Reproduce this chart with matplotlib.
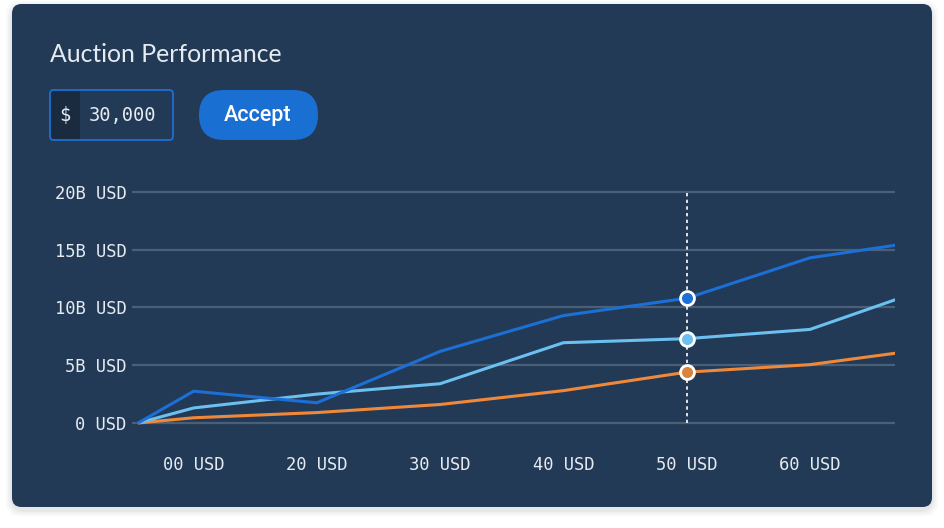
import matplotlib.pyplot as plt
from matplotlib.patches import FancyBboxPatch

# data (values in billions of USD)
x_pos = [-0.45, 0, 1, 2, 3, 4, 5, 5.7]
blue = [0, 2.75, 1.75, 6.2, 9.3, 10.8, 14.3, 15.4]
light_blue = [0, 1.3, 2.5, 3.4, 6.95, 7.3, 8.1, 10.7]
orange = [0, 0.45, 0.9, 1.6, 2.8, 4.4, 5.05, 6.05]
x_ticks = [0, 1, 2, 3, 4, 5]
x_labels = ["00 USD", "20 USD", "30 USD", "40 USD", "50 USD", "60 USD"]
y_ticks = [0, 5, 10, 15, 20]
y_labels = ["0 USD", "5B USD", "10B USD", "15B USD", "20B USD"]
hover_x = 4

W, H = 945, 528
card = "#233a56"
grid = "#4a5f78"
txt = "#e6ebf1"

fig = plt.figure(figsize=(W / 100, H / 100), dpi=100)
fig.patch.set_facecolor("white")

def px(x0, y0, w, h):
    # pixel box (from top-left) to figure fraction
    return (x0 / W, 1 - (y0 + h) / H, w / W, h / H)

# shadow + card
for i, a in enumerate([0.025, 0.03, 0.04]):
    g = 6 - i * 2
    b = px(12 - g, 4 - g + 3, 920 + 2 * g, 503 + 2 * g)
    fig.patches.append(FancyBboxPatch((b[0], b[1]), b[2], b[3],
                                      boxstyle="round,pad=0,rounding_size=0.015",
                                      transform=fig.transFigure, fc="black", ec="none",
                                      alpha=a, zorder=0, mutation_aspect=W / H))
b = px(12, 4, 920, 503)
fig.patches.append(FancyBboxPatch((b[0], b[1]), b[2], b[3],
                                  boxstyle="round,pad=0,rounding_size=0.01",
                                  transform=fig.transFigure, fc=card, ec="none", zorder=1,
                                  mutation_aspect=W / H))

fig.text(50 / W, 1 - 54 / H, "Auction Performance", fontsize=17.8, color=txt,
         family="Lato", va="center", ha="left")

# input box
b = px(50, 90, 30, 50)
fig.patches.append(FancyBboxPatch((b[0], b[1]), b[2], b[3],
                                  boxstyle="round,pad=0,rounding_size=0.003",
                                  transform=fig.transFigure, fc="#1a2a3f", ec="none", zorder=2))
b = px(50, 90, 123, 50)
fig.patches.append(FancyBboxPatch((b[0], b[1]), b[2], b[3],
                                  boxstyle="round,pad=0,rounding_size=0.004",
                                  transform=fig.transFigure, fc="none", ec="#1f6fd0", lw=1.3,
                                  zorder=3, mutation_aspect=W / H))
fig.text(65 / W, 1 - 116 / H, "$", fontsize=13.5, color=txt, family="DejaVu Sans Mono",
         va="center", ha="center", zorder=4)
fig.text(123 / W, 1 - 116 / H, "30,000", fontsize=13.5, color=txt, family="DejaVu Sans Mono",
         va="center", ha="center", zorder=4)

# button
b = px(199, 90, 119, 50)
fig.patches.append(FancyBboxPatch((b[0], b[1]), b[2], b[3],
                                  boxstyle="round,pad=0,rounding_size=%f" % (25 / W),
                                  transform=fig.transFigure, fc="#1a6fd3", ec="none",
                                  zorder=2, mutation_aspect=W / H))
fig.text(258 / W, 1 - 115 / H, "Accept", fontsize=15.5, color="white", family="Roboto",
         weight="medium", va="center", ha="center", zorder=4)

# chart
ax = fig.add_axes([132 / W, 1 - 429.9 / H, (895 - 132) / W, (429.9 - 187.4) / H])
ax.set_zorder(5)
ax.set_facecolor("none")
ax.set_xlim(-0.5, 5.69)
ax.set_ylim(-0.6, 20.4)
for s in ax.spines.values():
    s.set_visible(False)
for v in y_ticks:
    ax.axhline(v, color=grid, lw=1.6, zorder=1)
ax.set_xticks(x_ticks, x_labels)
ax.set_yticks(y_ticks, y_labels)
ax.tick_params(length=0, colors=txt, labelsize=12.3)
ax.tick_params(axis="x", pad=19)
ax.tick_params(axis="y", pad=4)
for lab in ax.get_xticklabels() + ax.get_yticklabels():
    lab.set_family("DejaVu Sans Mono")

ax.plot([hover_x, hover_x], [0, 20], color="white", lw=1.2, ls=(0, (2, 2)), zorder=2)

series = [(orange, "#f0883a", "#d9833f"), (light_blue, "#6cc0f0", "#6cc0f0"),
          (blue, "#1b6fd5", "#1b6fd5")]
for vals, c, mc in series:
    ax.plot(x_pos, vals, color=c, lw=2.2, zorder=3, solid_capstyle="butt")
    ax.plot(hover_x, vals[x_pos.index(hover_x)], "o", ms=10, mfc=mc, mec="white",
            mew=2, zorder=4)

fig.savefig("out.png", dpi=100, facecolor="white")
